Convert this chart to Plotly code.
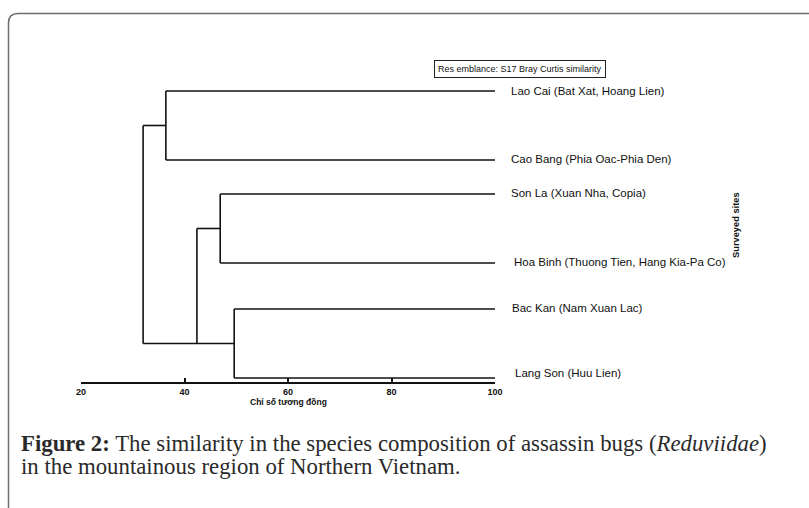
import plotly.graph_objects as go

# ---- data ----
sites = [
    "Lao Cai (Bat Xat, Hoang Lien)",
    "Cao Bang (Phia Oac-Phia Den)",
    "Son La (Xuan Nha, Copia)",
    "Hoa Binh (Thuong Tien, Hang Kia-Pa Co)",
    "Bac Kan (Nam Xuan Lac)",
    "Lang Son (Huu Lien)",
]
leaf_pos = [291, 222, 188, 119, 73, 4]          # vertical order of leaves
# merges: (left child, right child, similarity)
merge_pairs = [("L0", "L1"), ("L2", "L3"), ("L4", "L5"), ("N1", "N2"), ("N0", "N3")]
merge_sim = [36.4, 46.9, 49.6, 42.4, 32.0]
tick_vals = [20, 40, 60, 80, 100]
tick_text = ["20", "40", "60", "80", "100"]

# ---- layout geometry (pixels) ----
W, H = 809, 508
L, R = 81, 495
B, T = 382, 82
def px(xp):  # pixel x -> paper
    return (xp - L) / (R - L)
def py(yp):  # pixel y -> paper
    return (B - yp) / (B - T)

# ---- node positions ----
pos = {}
for i, v in enumerate(leaf_pos):
    pos[f"L{i}"] = v
for k, (a, b) in enumerate(merge_pairs):
    pos[f"N{k}"] = (pos[a] + pos[b]) / 2

# PRIMER-style drawing
xs, ys = [], []
def seg(x0, y0, x1, y1):
    xs.extend([x0, x1, None]); ys.extend([y0, y1, None])
for (a, b), s in zip(merge_pairs[:3], merge_sim[:3]):
    seg(100, pos[a], s, pos[a]); seg(100, pos[b], s, pos[b]); seg(s, pos[a], s, pos[b])
s3 = merge_sim[3]
seg(s3, pos["N1"], merge_sim[1], pos["N1"])
seg(s3, pos["N1"], s3, pos["N2"])
s4 = merge_sim[4]
seg(s4, pos["N0"], merge_sim[0], pos["N0"])
seg(s4, pos["N0"], s4, pos["N2"])
seg(s4, pos["N2"], merge_sim[2], pos["N2"])

fig = go.Figure()
fig.add_trace(go.Scatter(x=xs, y=ys, mode="lines",
                         line=dict(color="#111111", width=1.6),
                         hoverinfo="skip", showlegend=False, cliponaxis=False))

SANS = "Liberation Sans, Arial"
annotations = []
label_x = [509, 509, 509, 512, 510, 513]
label_dy = [0, -1, -1, -1, -1, -5]
for name, yv, lx, dy in zip(sites, leaf_pos, label_x, label_dy):
    annotations.append(dict(x=px(lx), y=yv - dy, xref="paper", yref="y", text=name,
                            showarrow=False, xanchor="left", yanchor="middle",
                            font=dict(family=SANS, size=11.5, color="#111111")))
annotations.append(dict(x=px(736), y=py(225), xref="paper", yref="paper", text="<b>Surveyed sites</b>",
                        textangle=-90, showarrow=False, xanchor="center", yanchor="middle",
                        font=dict(family=SANS, size=9.3, color="#111111")))
annotations.append(dict(x=px(520), y=py(69), xref="paper", yref="paper",
                        text="Res emblance: S17 Bray Curtis similarity",
                        showarrow=False, xanchor="center", yanchor="middle",
                        bordercolor="#222222", borderwidth=1, borderpad=3, bgcolor="white",
                        font=dict(family=SANS, size=9, color="#111111")))
annotations.append(dict(x=px(288), y=py(402), xref="paper", yref="paper",
                        text="<b>Chỉ số tương đồng</b>",
                        showarrow=False, xanchor="center", yanchor="middle",
                        font=dict(family=SANS, size=8.5, color="#111111")))
SERIF = "Liberation Serif, Times New Roman, serif"
annotations.append(dict(x=px(19), y=py(443), xref="paper", yref="paper",
                        text="<b>Figure 2:</b> The similarity in the species composition of assassin bugs (<i>Reduviidae</i>)",
                        showarrow=False, xanchor="left", yanchor="middle", align="left",
                        font=dict(family=SERIF, size=22.8, color="#2a2a2a")))
annotations.append(dict(x=px(19), y=py(467), xref="paper", yref="paper",
                        text="in the mountainous region of Northern Vietnam.",
                        showarrow=False, xanchor="left", yanchor="middle", align="left",
                        font=dict(family=SERIF, size=22.8, color="#2a2a2a")))

shapes = [dict(type="path", xref="paper", yref="paper",
               path=f"M {px(8.5)},{py(520)} L {px(8.5)},{py(23)} Q {px(8.5)},{py(13.5)} {px(18)},{py(13.5)} L {px(820)},{py(13.5)}",
               line=dict(color="#6e6e6e", width=1.5))]

fig.update_layout(
    width=W, height=H,
    margin=dict(l=L, r=W - R, t=T, b=H - B, pad=0),
    paper_bgcolor="white", plot_bgcolor="white",
    showlegend=False,
    xaxis=dict(range=[20, 100], tickvals=tick_vals, ticktext=tick_text, ticks="inside",
               ticklen=4, tickwidth=1.5, tickcolor="#111111", showline=True, linecolor="#111111",
               linewidth=1.6, showgrid=False, zeroline=False,
               tickfont=dict(family=SANS, size=9, color="#111111", weight="bold")),
    xaxis2=dict(range=[20, 100], overlaying="x", anchor="y", side="bottom", tickvals=tick_vals,
                ticks="outside", ticklen=4, tickwidth=1.5, tickcolor="#111111",
                showticklabels=False, showgrid=False, zeroline=False, showline=False),
    yaxis=dict(range=[0, B - T], visible=False, showgrid=False, zeroline=False),
    annotations=annotations,
    shapes=shapes,
)
fig.write_html("out.html", config={"displayModeBar": False},
               post_script="document.body.style.margin='0';")
